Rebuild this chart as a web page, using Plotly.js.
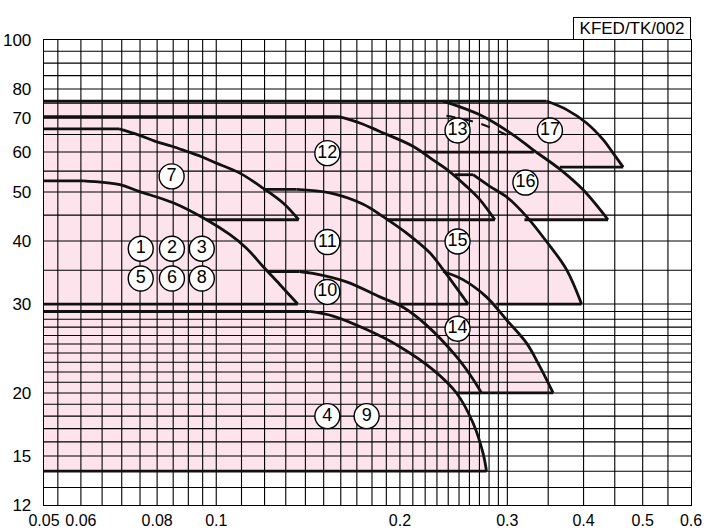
<!DOCTYPE html>
<html>
<head>
<meta charset="utf-8">
<script src="https://cdn.plot.ly/plotly-3.0.1.min.js"></script>
<style>html,body{margin:0;padding:0;background:#fff;}#chart{width:720px;height:532px;}</style>
</head>
<body>
<div id="chart"></div>
<script>
// ---- Data (flow on x, head on y) ----
// Each model: curve points from the knee to the tip, and [x where the top line starts, x where the bottom line ends]
// Models 1,2,3,5,6,8
const m1CurveX = [0.0605, 0.0695, 0.0745, 0.085, 0.0964, 0.1052, 0.1121, 0.1193, 0.1271, 0.136];
const m1CurveY = [52.6, 51.7, 50.2, 47.6, 44.06, 41.2, 38.7, 35.6, 32.8, 30.0];
const m1Ends = [0.05, 0.05];
// Model 7
const m7CurveX = [0.0693, 0.0745, 0.0795, 0.0846, 0.0894, 0.0944, 0.0998, 0.1093, 0.1193, 0.1291, 0.1365];
const m7CurveY = [66.7, 64.9, 63.0, 61.6, 60.2, 58.8, 57.1, 54.5, 50.9, 47.4, 44.06];
const m7Ends = [0.05, 0.0964];
// Model 12
const m12CurveX = [0.1589, 0.1719, 0.1854, 0.2101, 0.2265, 0.2384, 0.2571, 0.2704, 0.2862];
const m12CurveY = [70.5, 68.5, 65.9, 61.6, 57.9, 55.5, 51.3, 48.3, 44.06];
const m12Ends = [0.05, 0.19];
// Model 11
const m11CurveX = [0.1354, 0.1535, 0.1741, 0.1877, 0.2049, 0.2239, 0.2354, 0.2587];
const m11CurveY = [50.6, 49.8, 47.3, 44.7, 41.5, 37.9, 35.1, 30.0];
const m11Ends = [0.1193, 0.1985];
// Model 10
const m10CurveX = [0.137, 0.1441, 0.1635, 0.1854, 0.2021, 0.2211, 0.2476, 0.2636, 0.2721];
const m10CurveY = [34.8, 34.5, 33.2, 31.0, 29.6, 27.25, 23.6, 21.3, 20.0];
const m10Ends = [0.1215, 0.2476];
// Models 4, 9
const m4CurveX = [0.1423, 0.1554, 0.1764, 0.1999, 0.2265, 0.2476, 0.2636, 0.2737, 0.2773];
const m4CurveY = [29.0, 28.4, 26.7, 24.7, 22.25, 20.0, 17.44, 15.2, 14.0];
const m4Ends = [0.05, 0.05];
// Model 14
const m14CurveX = [0.2354, 0.2541, 0.2772, 0.2992, 0.3226, 0.3389, 0.3566];
const m14CurveY = [34.8, 33.5, 31.0, 27.9, 25.1, 22.6, 20.0];
const m14Ends = [null, 0.2721];
// Model 15
const m15CurveX = [0.2636, 0.2808, 0.3004, 0.3226, 0.3478, 0.3751, 0.397];
const m15CurveY = [54.1, 51.3, 48.7, 44.7, 39.9, 35.1, 30.0];
const m15Ends = [0.246, 0.2878];
// Model 16
const m16CurveX = [0.2354, 0.2704, 0.3066, 0.3306, 0.3657, 0.3993, 0.4387];
const m16CurveY = [75.7, 71.1, 64.9, 60.6, 55.5, 50.5, 44.06];
const m16Ends = [null, 0.32];
// Model 17
const m17CurveX = [0.3478, 0.3751, 0.4045, 0.4306, 0.4472, 0.4645];
const m17CurveY = [75.7, 72.8, 68.5, 63.5, 59.7, 56.0];
const m17Ends = [0.05, 0.3657];
// Model 13 (bottom line and dashed curve)
const m13X = [0.2182, 0.3315];
const m13Y = [60.0, 60.0];
const m13DashX = [0.2384, 0.2687, 0.3028, 0.3066];
const m13DashY = [70.8, 68.5, 64.4, 63.8];

// Circled model labels
const labelText = ['1','2','3','5','6','8','7','12','11','10','4','9','13','17','16','15','14'];
const labelX = [0.0752,0.0846,0.0947,0.0752,0.0846,0.0947,0.0845,0.1521,0.1521,0.1521,0.1521,0.1764,0.2486,0.3523,0.3212,0.2486,0.2486];
const labelY = [38.6,38.6,38.6,33.7,33.7,33.7,53.7,59.7,39.8,31.7,18.0,18.0,66.2,66.2,52.2,39.9,26.8];

// Grid and ticks
const gridX = [0.055,0.06,0.065,0.07,0.075,0.08,0.085,0.09,0.095,0.1,0.11,0.12,0.13,0.14,0.15,0.16,0.17,0.18,0.19,0.2,0.21,0.22,0.23,0.24,0.25,0.26,0.27,0.28,0.29,0.3,0.35,0.4,0.45,0.5,0.55];
const gridY = [13,14,15,16,17,18,19,20,21,22,23,24,25,26,27,28,29,30,35,40,45,50,55,60,65,70,75,80,85,90,95];
const xTickVals = [0.0522,0.06,0.08,0.1,0.2,0.3,0.4,0.5,0.6];
const xTickText = ['0.05','0.06','0.08','0.1','0.2','0.3','0.4','0.5','0.6'];
const yTickVals = [12,15,20,30,40,50,60,70,80,100];
const yTickText = ['12','15','20','30','40','50','60','70','80','100'];
const xMin = 0.0522, xMax = 0.6, yMin = 12, yMax = 100;

// ---- Build traces ----
const models = [
  [m1CurveX, m1CurveY, m1Ends], [m7CurveX, m7CurveY, m7Ends], [m12CurveX, m12CurveY, m12Ends],
  [m11CurveX, m11CurveY, m11Ends], [m10CurveX, m10CurveY, m10Ends], [m4CurveX, m4CurveY, m4Ends],
  [m14CurveX, m14CurveY, m14Ends], [m15CurveX, m15CurveY, m15Ends], [m16CurveX, m16CurveY, m16Ends],
  [m17CurveX, m17CurveY, m17Ends]
];
const PINK = '#fde4ec';
const fx = [], fy = [], lx = [], ly = [], cx = [], cy = [];
models.forEach(([xs, ys, ends]) => {
  const n = xs.length;
  fx.push(0.04, ...xs, 0.04, null);
  fy.push(ys[0], ...ys, ys[n-1], null);
  if (ends[0] !== null) { lx.push(ends[0], xs[0], null); ly.push(ys[0], ys[0], null); }
  if (ends[1] !== null) { lx.push(xs[n-1], ends[1], null); ly.push(ys[n-1], ys[n-1], null); }
  cx.push(...xs, null); cy.push(...ys, null);
});
lx.push(...m13X, null); ly.push(...m13Y, null);

const traces = [];
traces.push({x: fx, y: fy, mode: 'lines', fill: 'toself', fillcolor: PINK, line: {width: 0, color: PINK}, hoverinfo: 'skip'});

const gvx = [], gvy = [];
gridX.forEach(v => { gvx.push(v, v, null); gvy.push(yMin, yMax, null); });
const ghx = [], ghy = [];
gridY.forEach(v => { ghx.push(0.04, 0.7, null); ghy.push(v, v, null); });
traces.push({x: gvx, y: gvy, mode: 'lines', line: {color: '#000', width: 1.1}, hoverinfo: 'skip'});
traces.push({x: ghx, y: ghy, mode: 'lines', line: {color: '#000', width: 1.1}, hoverinfo: 'skip'});

traces.push({x: lx, y: ly, mode: 'lines', line: {color: '#111', width: 2.8}, hoverinfo: 'skip'});
traces.push({x: cx, y: cy, mode: 'lines', line: {color: '#111', width: 2.8, shape: 'spline', smoothing: 1}, hoverinfo: 'skip'});
traces.push({x: m13DashX, y: m13DashY, mode: 'lines', line: {color: '#111', width: 2, dash: 'dash', shape: 'spline'}, hoverinfo: 'skip'});

traces.push({
  x: labelX, y: labelY, text: labelText, mode: 'markers+text', textposition: 'middle center',
  marker: {symbol: 'circle', size: 25, color: '#fff', line: {color: '#000', width: 1.4}},
  textfont: {family: 'Liberation Sans, Arial, sans-serif', size: 18, color: '#000'},
  cliponaxis: false, hoverinfo: 'skip'
});

const FONT = 'Liberation Sans, Arial, sans-serif';
const layout = {
  width: 720, height: 532,
  margin: {l: 44, r: 29, t: 40, b: 27, pad: 0},
  paper_bgcolor: '#fff', plot_bgcolor: '#fff',
  showlegend: false,
  font: {family: FONT, color: '#000', size: 16},
  xaxis: {
    type: 'log', range: [Math.log10(xMin), Math.log10(xMax)],
    tickmode: 'array', tickvals: xTickVals, ticktext: xTickText,
    showgrid: false, zeroline: false, showline: true, mirror: true,
    linecolor: '#000', linewidth: 1.3, ticks: '', ticklabelstandoff: 0,
    tickfont: {family: FONT, size: 16, color: '#000'}
  },
  yaxis: {
    type: 'log', range: [Math.log10(yMin), Math.log10(yMax)],
    tickmode: 'array', tickvals: yTickVals, ticktext: yTickText,
    showgrid: false, zeroline: false, showline: true, mirror: true,
    linecolor: '#000', linewidth: 1.3, ticks: '', ticklabelstandoff: 8,
    tickfont: {family: FONT, size: 17, color: '#000'}
  },
  annotations: [{
    xref: 'paper', yref: 'paper', x: 1, y: 1, xanchor: 'right', yanchor: 'bottom',
    text: 'KFED/TK/002', showarrow: false, width: 116, height: 21,
    bordercolor: '#000', borderwidth: 1, borderpad: 0, bgcolor: '#fff',
    font: {family: FONT, size: 17, color: '#000'}
  }]
};

Plotly.newPlot('chart', traces, layout, {staticPlot: true, displayModeBar: false});
</script>
</body>
</html>
